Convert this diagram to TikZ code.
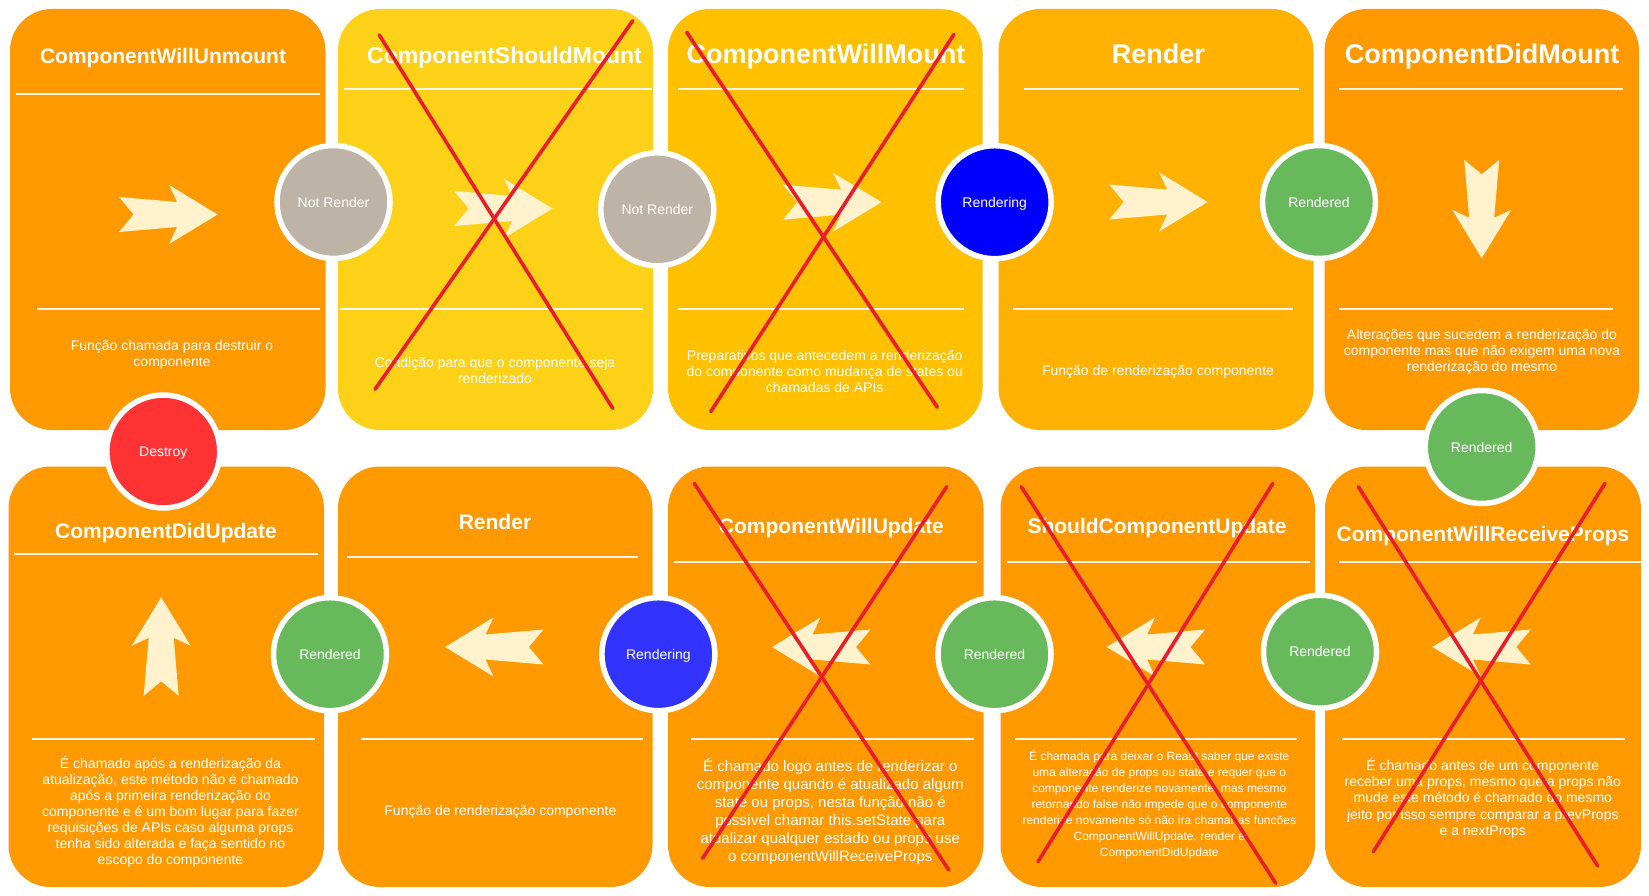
\documentclass[tikz,border=0pt]{standalone}
\usepackage{fontspec}
\setmainfont{Liberation Sans}
\definecolor{cOrange}{HTML}{FF9900}
\definecolor{cYellow}{HTML}{FDD117}
\definecolor{cAmber}{HTML}{FFC000}
\definecolor{cGold}{HTML}{FFB100}
\definecolor{cGrey}{HTML}{BDB3A7}
\definecolor{cBlue}{HTML}{0000FF}
\definecolor{cBlueB}{HTML}{3333FF}
\definecolor{cGreen}{HTML}{68B85C}
\definecolor{cRed}{HTML}{FF3333}
\definecolor{cCross}{HTML}{E81E2D}
\definecolor{cCream}{HTML}{FFF2CC}
\tikzset{
  card/.style={rounded corners=42pt},
  sepline/.style={draw=white, line width=1.8pt, opacity=0.9},
  ttl/.style={text=white, anchor=base, inner sep=0pt, font=\bfseries\fontsize{#1}{#1}\selectfont},
  desc/.style={text=white, align=center, inner sep=0pt, font=\fontsize{14}{16}\selectfont},
  state/.style={circle, draw=white, line width=5.5pt, minimum size=113pt, inner sep=0pt,
    text height=10.2pt, text depth=0pt, text=white, font=\fontsize{14}{16}\selectfont},
  crossline/.style={draw=cCross, line width=3.6pt, line cap=round},
  blockarrow/.pic={\fill[cCream] (0,0) -- (-48.5,-29.5) -- (-40.5,-12.5) -- (-98.5,-17.5)
     -- (-84,0) -- (-98.5,17.5) -- (-40.5,12.5) -- (-48.5,29.5) -- cycle;}
}
\begin{document}
\begin{tikzpicture}[x=1pt,y=-1pt]
\useasboundingbox (0,0) rectangle (1649,896);
\fill[white] (0,0) rectangle (1649,896);
% cards
\fill[card, cOrange] (10,9) rectangle (325.5,430);
\fill[card, cYellow] (338,9) rectangle (653,430);
\fill[card, cAmber] (668,9) rectangle (982.5,430);
\fill[card, cGold] (998.5,9) rectangle (1313.5,430);
\fill[card, cOrange] (1324.5,9) rectangle (1639,430);
\fill[card, cOrange] (8.5,466.5) rectangle (324,887);
\fill[card, cOrange] (338,466.5) rectangle (652.5,887);
\fill[card, cOrange] (668,466.5) rectangle (983.5,887);
\fill[card, cOrange] (1000.5,466.5) rectangle (1315,887);
\fill[card, cOrange] (1325,466.5) rectangle (1641,887);
% separators
\draw[sepline] (16,94.3) -- (320,94.3);   \draw[sepline] (37,309.3) -- (320,309.3);
\draw[sepline] (344,89.3) -- (652,89.3);  \draw[sepline] (340,309.3) -- (643,309.3);
\draw[sepline] (678,89.3) -- (964.4,89.3); \draw[sepline] (678,309.3) -- (963.5,309.3);
\draw[sepline] (1023.7,89.3) -- (1299.4,89.3); \draw[sepline] (1013,309.3) -- (1293,309.3);
\draw[sepline] (1339.3,89.3) -- (1623.3,89.3); \draw[sepline] (1339.3,309.3) -- (1613.3,309.3);
\draw[sepline] (14,554.3) -- (318,554.3); \draw[sepline] (32.4,739.3) -- (315,739.3);
\draw[sepline] (347,557.3) -- (637.6,557.3); \draw[sepline] (361,739.3) -- (643,739.3);
\draw[sepline] (674,561.7) -- (977.4,561.7); \draw[sepline] (691,739.3) -- (974,739.3);
\draw[sepline] (1006.5,561.7) -- (1310,561.7); \draw[sepline] (1015.3,739.3) -- (1297.3,739.3);
\draw[sepline] (1339.3,561.7) -- (1641,561.7); \draw[sepline] (1342.3,739.3) -- (1625,739.3);
% arrows
\pic at (217.6,214.5) {blockarrow};
\pic at (552.6,208.5) {blockarrow};
\pic at (881.5,202.2) {blockarrow};
\pic at (1207.7,202) {blockarrow};
\pic[rotate=-90] at (1481.7,258.3) {blockarrow};
\pic[rotate=90] at (161.2,597.3) {blockarrow};
\pic[rotate=180] at (445,647) {blockarrow};
\pic[rotate=180] at (772,647) {blockarrow};
\pic[rotate=180] at (1106.6,647) {blockarrow};
\pic[rotate=180] at (1432.3,647) {blockarrow};
% titles
\node[ttl=21] (t1) at (163,64) {ComponentWillUnmount};
\node[ttl=23] (t2) at (504.5,63.3) {ComponentShouldMount};
\node[ttl=27] (t3) at (826,63.3) {ComponentWillMount};
\node[ttl=27] (t4) at (1158.4,63.3) {Render};
\node[ttl=27] (t5) at (1482,63.3) {ComponentDidMount};
\node[ttl=21] (t6) at (166,538) {ComponentDidUpdate};
\node[ttl=21] (t7) at (495,529.3) {Render};
\node[ttl=21] (t8) at (831.4,533) {ComponentWillUpdate};
\node[ttl=21] (t9) at (1157,533) {ShouldComponentUpdate};
\node[ttl=21] (t10) at (1483,541.7) {ComponentWillReceiveProps};
% descriptions
\node[desc] (d1) at (172,355) {Função chamada para destruir o\\componente};
\node[desc] (d2) at (495,370.9) {Condição para que o componente seja\\renderizado};
\node[desc] (d3) at (824.7,371.3) {Preparativos que antecedem a renderização\\do componente como mudança de states ou\\chamadas de APIs};
\node[desc] (d4) at (1158,371.5) {Função de renderização componente};
\node[desc] (d5) at (1482,352.2) {Alterações que sucedem a renderização do\\componente mas que não exigem uma nova\\renderização do mesmo};
\node[desc] (d6) at (170.5,811.4) {É chamado após a renderização da\\atualização, este método não é chamado\\após a primeira renderização do\\componente e é um bom lugar para fazer\\requisições de APIs caso alguma props\\tenha sido alterada e faça sentido no\\escopo do componente};
\node[desc] (d7) at (500.4,811.7) {Função de renderização componente};
\node[desc, font=\fontsize{15}{18}\selectfont] (d8) at (830.3,811.5) {É chamado logo antes de renderizar o\\componente quando é atualizado algum\\state ou props, nesta função não é\\possível chamar this.setState para\\atualizar qualquer estado ou props use\\o componentWillReceiveProps};
\node[desc, font=\fontsize{12}{16.07}\selectfont] (d9) at (1159.3,804.8) {É chamada para deixar o React saber que existe\\uma alteração de props ou state e requer que o\\componente renderize novamente, mas mesmo\\retornando false não impede que o componente\\renderize novamente só não ira chamar as funcões\\ComponentWillUpdate, render e\\ComponentDidUpdate};
\node[desc, font=\fontsize{14}{16.1}\selectfont] (d10) at (1482.8,798.3) {É chamado antes de um componente\\receber uma props, mesmo que a props não\\mude este método é chamado do mesmo\\jeito por isso sempre comparar a prevProps\\e a nextProps};
% state circles
\node[state, fill=cGrey] (s1) at (333.5,202) {Not Render};
\node[state, fill=cGrey] (s2) at (657.3,209.3) {Not Render};
\node[state, fill=cBlue] (s3) at (994.7,202.2) {Rendering};
\node[state, fill=cGreen] (s4) at (1319,202) {Rendered};
\node[state, fill=cGreen] (s5) at (1481.7,447) {Rendered};
\node[state, fill=cRed] (s6) at (163.3,451.5) {Destroy};
\node[state, fill=cGreen] (s7) at (330,654.2) {Rendered};
\node[state, fill=cBlueB] (s8) at (658.4,654.2) {Rendering};
\node[state, fill=cGreen] (s9) at (994.5,654.2) {Rendered};
\node[state, fill=cGreen] (s10) at (1320,651.7) {Rendered};
% crosses
\draw[crossline] (379.3,35) -- (612.7,408.3); \draw[crossline] (632.7,20.7) -- (375,389.3);
\draw[crossline] (686.7,32.3) -- (937.3,407.3); \draw[crossline] (954,34.3) -- (710.7,411.7);
\draw[crossline] (694.2,483.3) -- (948.8,870); \draw[crossline] (946.7,486.7) -- (702.6,858.3);
\draw[crossline] (1021.2,486.7) -- (1275.8,883.3); \draw[crossline] (1272.9,483.3) -- (1038,861.7);
\draw[crossline] (1358.3,486.7) -- (1597.7,866); \draw[crossline] (1605,483.3) -- (1373.3,851.7);
\end{tikzpicture}
\end{document}
